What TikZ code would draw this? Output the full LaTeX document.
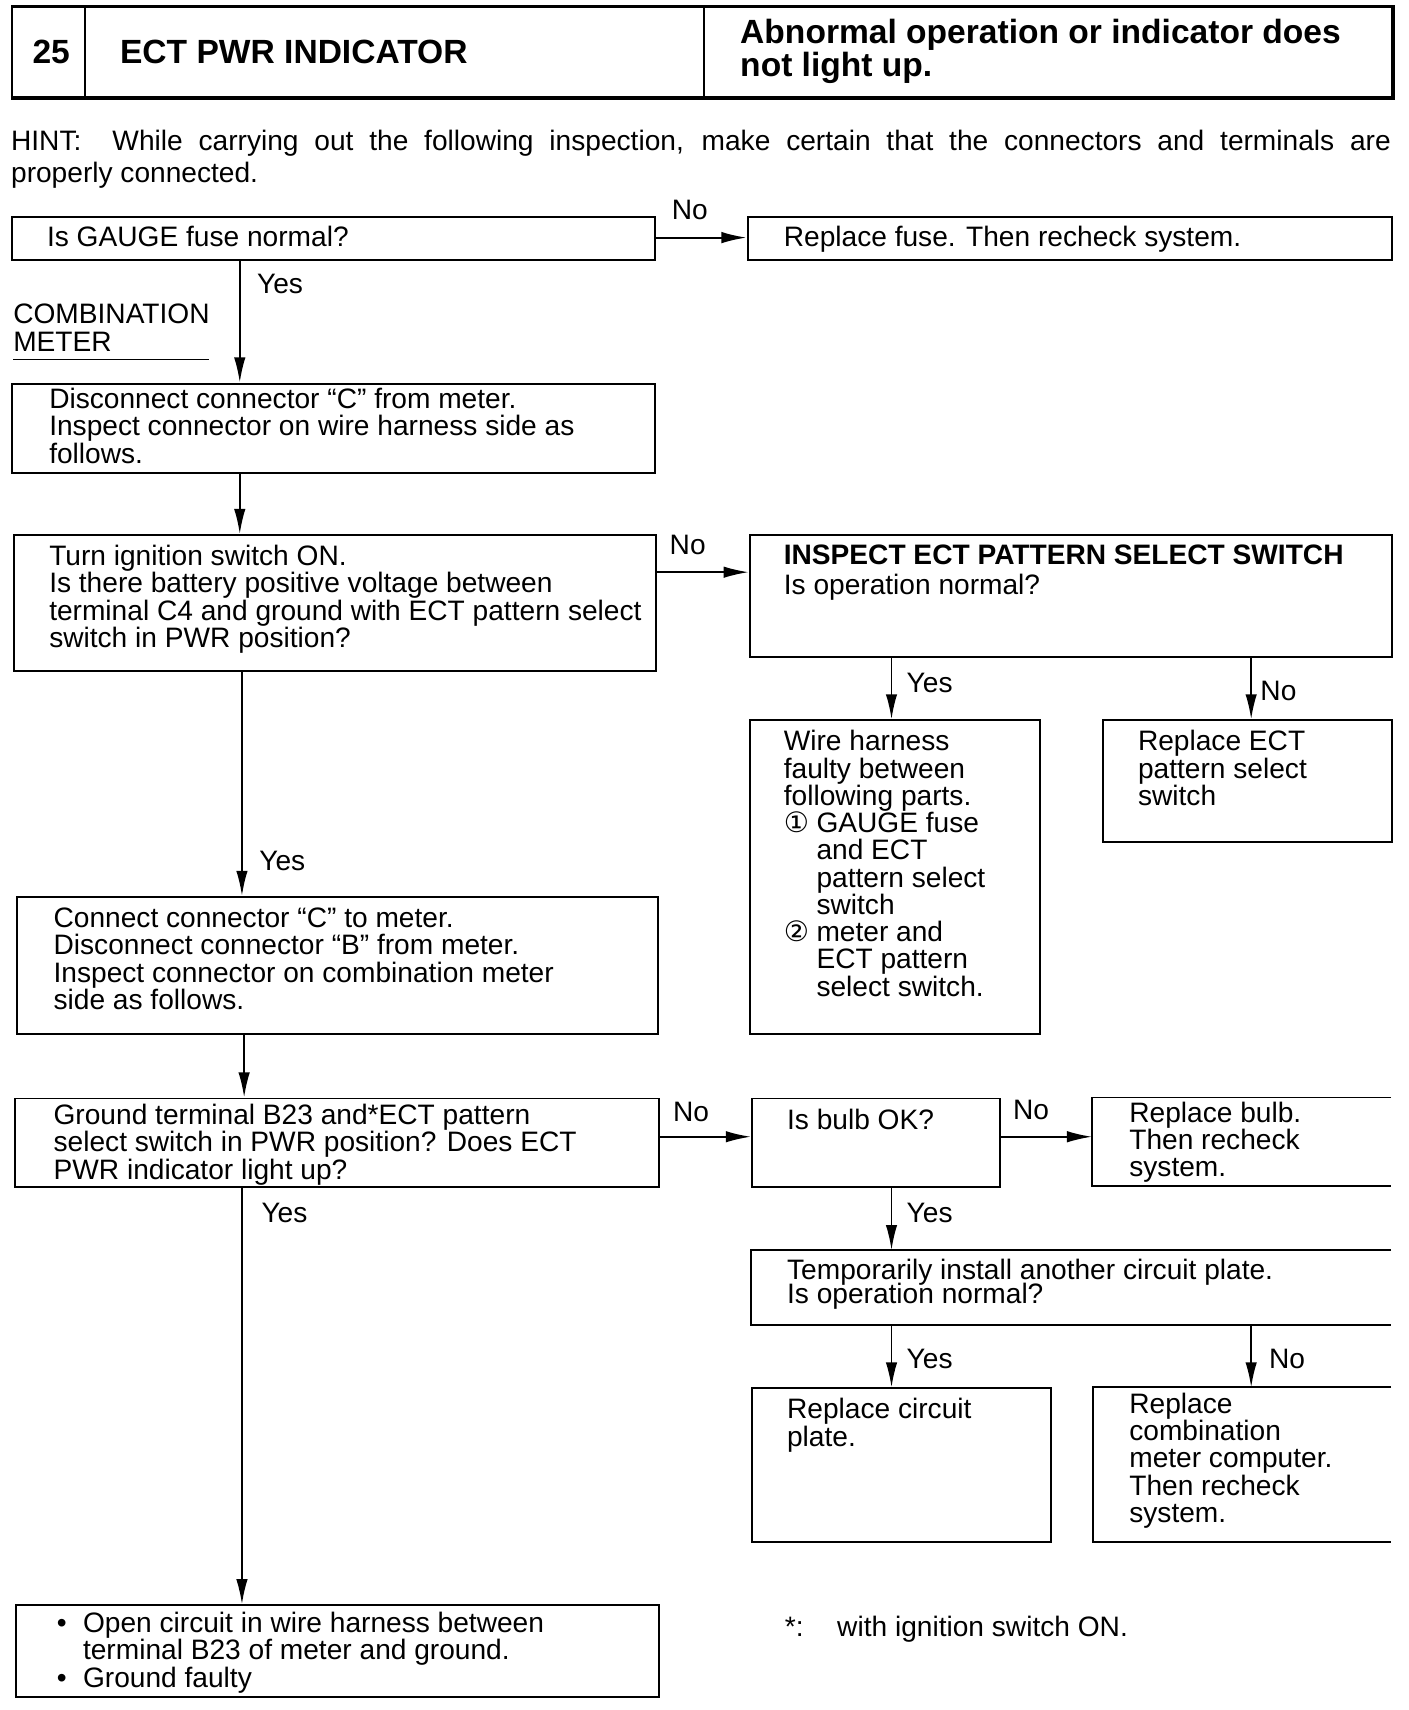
\documentclass[tikz,border=0pt]{standalone}
\usepackage{fontspec}
\setmainfont{Liberation Sans}
\newfontfamily\dejavu{DejaVu Sans}
\usetikzlibrary{arrows.meta}
\newcommand\mkbox[6]{\node[#6, anchor=north west, minimum width={#4-#2}, minimum height={#5-#3}] (#1) at (#2,#3) {};}
\newcommand\circnum[1]{\makebox[30pt][l]{\dejavu #1}}
\begin{document}
\begin{tikzpicture}[x=1pt,y=-1pt,
  box/.style={draw, line width=1.8pt, rectangle, inner sep=0pt, fill=none},
  openbox/.style={rectangle, inner sep=0pt},
  txt/.style={anchor=north west, yshift=20pt, inner sep=0pt, align=left, font=\fontsize{25.8}{25}\selectfont, execute at begin node={\rule{0pt}{20pt}}},
  hdr/.style={anchor=north west, yshift=24pt, inner sep=0pt, align=left, font=\fontsize{30.8}{31}\selectfont\bfseries, execute at begin node={\rule{0pt}{24pt}}},
  lbl/.style={inner sep=0pt, font=\fontsize{25.8}{25}\selectfont},
  arr/.style={line width=1.7pt, -{Latex[length=23pt,width=10.5pt]}},
  side/.style={line width=1.8pt},
]
\fill[white] (0,0) rectangle (1292,1569);
\useasboundingbox (0,0) rectangle (1292,1569);

% header
\mkbox{H}{10}{5}{1276}{88}{box, line width=2.2pt}
\draw[line width=3.5pt] (H.south west) -- (H.south east) -- (H.north east);
\coordinate (hd1) at (78,0);
\coordinate (hd2) at (646,0);
\draw[line width=1.6pt] (H.north -| hd1) -- (H.south -| hd1);
\draw[line width=1.6pt] (H.north -| hd2) -- (H.south -| hd2);
\node[inner sep=0pt, anchor=base, font=\fontsize{30.8}{31}\selectfont\bfseries] (hnum) at (47,58) {25};
\node[hdr] (htitle) at (110,58) {ECT PWR INDICATOR};
\node[hdr] (hsub) at (679,41) {Abnormal operation or indicator does\\not light up.};

% hint
\node[txt] (hint) at (10,139) {\makebox[1266pt][s]{HINT:\hspace{14pt} While carrying out the following inspection, make certain that the connectors and terminals are}\\[5pt]properly connected.};

% boxes
\mkbox{B1}{10}{198}{600}{238}{box}
\mkbox{R1}{685}{198}{1276}{238}{box}
\mkbox{B2}{10}{351}{600}{433}{box}
\mkbox{B3}{12}{490}{601}{615}{box}
\mkbox{R2}{687}{490}{1276}{602}{box}
\mkbox{R3}{687}{660}{953}{948}{box}
\mkbox{R4}{1011}{660}{1276}{772}{box}
\mkbox{B4}{15}{822}{603}{948}{box}
\mkbox{B5}{13}{1007}{604}{1088}{box}
\mkbox{R5}{689}{1007}{917}{1088}{box}
\mkbox{R6}{1002}{1007}{1276}{1088}{openbox}
\mkbox{R7}{689}{1147}{1276}{1215}{openbox}
\mkbox{R8}{689}{1273}{963}{1414}{box}
\mkbox{R9}{1003}{1273}{1276}{1414}{openbox}
\mkbox{B6}{14}{1472}{604}{1556}{box}
\foreach \b in {R6,R7,R9}{
  \draw[side] (\b.north east) -- (\b.north west) -- (\b.south west) -- (\b.south east);
}

% texts
\node[txt] (t1) at (43,226) {Is GAUGE fuse normal?};
\node[txt] (tr1) at (719,226) {Replace fuse. Then recheck system.};
\node[txt] (tcm) at (12,299) {COMBINATION\\METER};
\draw[line width=1.4pt] (12,330) -- (192,330);
\node[txt] (t2) at (45,376) {Disconnect connector “C” from meter.\\Inspect connector on wire harness side as\\follows.};
\node[txt] (t3) at (45,520) {Turn ignition switch ON.\\Is there battery positive voltage between\\terminal C4 and ground with ECT pattern select\\switch in PWR position?};
\node[txt] (tr2) at (719,520) {\textbf{INSPECT ECT PATTERN SELECT SWITCH}\\[2pt]Is operation normal?};
\node[txt] (tr3) at (719,690) {Wire harness\\faulty between\\following parts.\\\circnum{①}GAUGE fuse\\\hspace*{30pt}and ECT\\\hspace*{30pt}pattern select\\\hspace*{30pt}switch\\\circnum{②}meter and\\\hspace*{30pt}ECT pattern\\\hspace*{30pt}select switch.};
\node[txt] (tr4) at (1044,690) {Replace ECT\\pattern select\\switch};
\node[txt] (t4) at (49,853) {Connect connector “C” to meter.\\Disconnect connector “B” from meter.\\Inspect connector on combination meter\\side as follows.};
\node[txt] (t5) at (49,1033) {Ground terminal B23 and*ECT pattern\\select switch in PWR position? Does ECT\\PWR indicator light up?};
\node[txt] (tr5) at (722,1036) {Is bulb OK?};
\node[txt] (tr6) at (1036,1031) {Replace bulb.\\Then recheck\\system.};
\node[txt] (tr7) at (722,1175) {Temporarily install another circuit plate.\\[-3pt]Is operation normal?};
\node[txt] (tr8) at (722,1303) {Replace circuit\\plate.};
\node[txt] (tr9) at (1036,1298) {Replace\\combination\\meter computer.\\Then recheck\\system.};
\node[txt] (t6) at (52,1499) {\makebox[24pt][l]{•}Open circuit in wire harness between\\\hspace*{24pt}terminal B23 of meter and ground.\\\makebox[24pt][l]{•}Ground faulty};
\node[txt] (fn1) at (720,1501) {*:};
\node[txt] (fn2) at (768,1501) {with ignition switch ON.};

% connector positions
\coordinate (xa) at (220,0);
\coordinate (xb) at (222,0);
\coordinate (xc) at (224,0);
\coordinate (xr) at (818,0);
\coordinate (xq) at (1148,0);
\coordinate (ya) at (0,218);
\coordinate (yb) at (0,525);
\coordinate (yc) at (0,1043);

% connectors
\draw[arr] (B1.east |- ya) -- (R1.west |- ya);
\draw[arr] (B1.south -| xa) -- (B2.north -| xa);
\draw[arr] (B2.south -| xa) -- (B3.north -| xa);
\draw[arr] (B3.east |- yb) -- (R2.west |- yb);
\draw[arr] (R2.south -| xr) -- (R3.north -| xr);
\draw[arr] (R2.south -| xq) -- (R4.north -| xq);
\draw[arr] (B3.south -| xb) -- (B4.north -| xb);
\draw[arr] (B4.south -| xc) -- (B5.north -| xc);
\draw[arr] (B5.east |- yc) -- (R5.west |- yc);
\draw[arr] (R5.east |- yc) -- (R6.west |- yc);
\draw[arr] (R5.south -| xr) -- (R7.north -| xr);
\draw[arr] (R7.south -| xr) -- (R8.north -| xr);
\draw[arr] (R7.south -| xq) -- (R9.north -| xq);
\draw[arr] (B5.south -| xb) -- (B6.north -| xb);

% labels
\node[lbl] (l1) at (633,193) {No};
\node[lbl] (l2) at (257,261) {Yes};
\node[lbl] (l3) at (631,500) {No};
\node[lbl] (l4) at (853,627) {Yes};
\node[lbl] (l5) at (1173,634) {No};
\node[lbl] (l6) at (259,790) {Yes};
\node[lbl] (l7) at (634,1020) {No};
\node[lbl] (l8) at (946,1018) {No};
\node[lbl] (l9) at (853,1113) {Yes};
\node[lbl] (l10) at (261,1113) {Yes};
\node[lbl] (l11) at (853,1247) {Yes};
\node[lbl] (l12) at (1181,1247) {No};
\end{tikzpicture}
\end{document}
